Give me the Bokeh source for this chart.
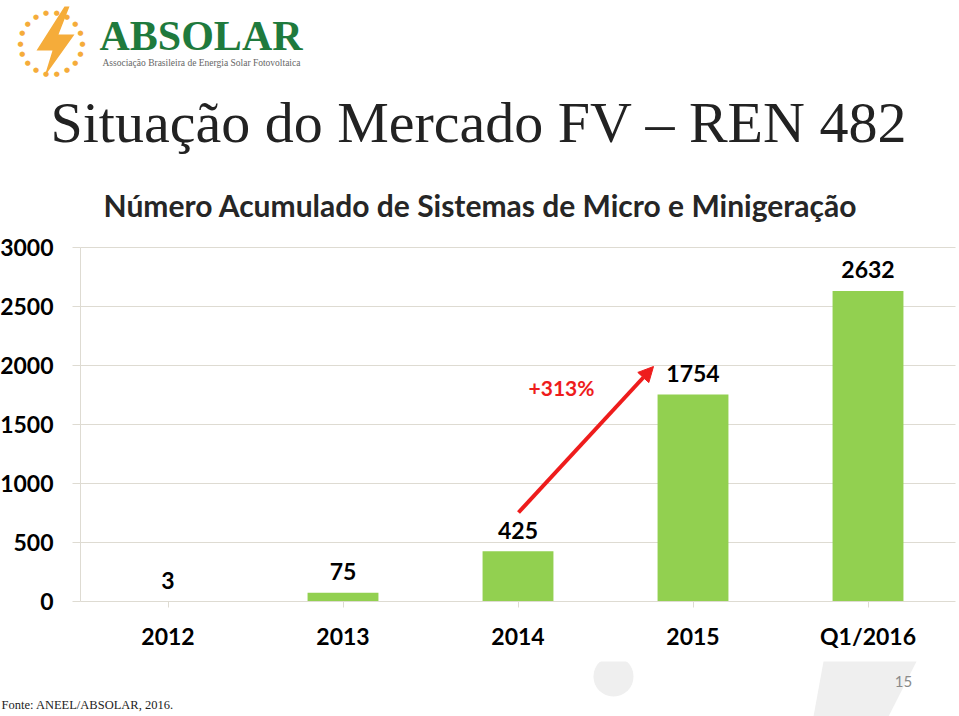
import math
from bokeh.plotting import figure
from bokeh.models import (Range1d, FixedTicker, Label, Arrow, NormalHead,
                          PolyAnnotation, ColumnDataSource)
from bokeh.core.properties import value
from bokeh.embed import file_html
from bokeh.resources import INLINE

# ---- data ----
categories = ["2012", "2013", "2014", "2015", "Q1/2016"]
systems = [3, 75, 425, 1754, 2632]
growth_label = "+313%"
y_ticks = [0, 500, 1000, 1500, 2000, 2500, 3000]

title_text = "Situação do Mercado FV – REN 482"
subtitle_text = "Número Acumulado de Sistemas de Micro e Minigeração"
logo_text = "ABSOLAR"
logo_sub = "Associação Brasileira de Energia Solar Fotovoltaica"
source_text = "Fonte: ANEEL/ABSOLAR, 2016."
page_number = "15"

# ---- geometry (canvas pixels) ----
W, H = 959, 716
AX_LEFT, AX_RIGHT = 80, 955      # pixel x of category range 0..N
AX_TOP, AX_BOTTOM = 247, 601     # pixel y of 3000 and 0
Y_MAX = 3000
N = len(categories)
PX_X = (AX_RIGHT - AX_LEFT) / N
PX_Y = (AX_BOTTOM - AX_TOP) / Y_MAX


def dx(px):
    return (px - AX_LEFT) / PX_X


def dy(py):
    return (AX_BOTTOM - py) / PX_Y


GREEN = "#92d050"
GRID = "#dedbd2"
RED = "#ee1c1c"

p = figure(width=W, height=H, output_backend="svg", toolbar_location=None,
           x_range=Range1d(dx(0), dx(W)), y_range=Range1d(dy(H), dy(0)),
           min_border=0, min_border_left=0, min_border_right=0,
           min_border_top=0, min_border_bottom=0, outline_line_color=None,
           background_fill_color="white", border_fill_color="white")

xs = [i + 0.5 for i in range(N)]

# grid lines
p.xgrid.grid_line_color = None
p.ygrid.grid_line_color = None
p.segment(x0=[0] * (len(y_ticks) - 1), x1=[N] * (len(y_ticks) - 1),
          y0=y_ticks[1:], y1=y_ticks[1:], line_color=GRID, line_width=1)

src = ColumnDataSource(dict(x=xs, top=systems, lab=[str(v) for v in systems]))
p.vbar(x="x", top="top", width=0.405, bottom=0, source=src,
       fill_color=GREEN, line_color=None)

p.text(x="x", y="top", text="lab", source=src, y_offset=-21,
       text_align="center", text_baseline="middle",
       text_font=value("Lato"), text_font_style="bold",
       text_font_size="23px", text_color="black")

# axes placed inside the canvas
p.xaxis.fixed_location = 0
p.yaxis.fixed_location = 0
p.xaxis.bounds = (0, N)
p.yaxis.bounds = (0, Y_MAX)

p.xaxis.ticker = FixedTicker(ticks=xs)
p.xaxis.major_label_overrides = {x: c for x, c in zip(xs, categories)}
p.xaxis.major_label_text_font = "Lato"
p.xaxis.major_label_text_font_style = "bold"
p.xaxis.major_label_text_font_size = "23px"
p.xaxis.major_label_text_color = "black"
p.xaxis.axis_line_color = GRID
p.xaxis.major_tick_line_color = GRID
p.xaxis.major_tick_in = 0
p.xaxis.major_tick_out = 6
p.xaxis.minor_tick_line_color = None
p.xaxis.major_label_standoff = 14

p.yaxis.ticker = FixedTicker(ticks=y_ticks)
p.yaxis.major_label_text_font = "Lato"
p.yaxis.major_label_text_font_style = "bold"
p.yaxis.major_label_text_font_size = "23px"
p.yaxis.major_label_text_color = "black"
p.yaxis.axis_line_color = GRID
p.yaxis.major_tick_line_color = GRID
p.yaxis.major_tick_in = 0
p.yaxis.major_tick_out = 8
p.yaxis.minor_tick_line_color = None
p.yaxis.major_label_standoff = 19

# growth arrow
p.add_layout(Arrow(x_start=dx(518), y_start=dy(512), x_end=dx(653), y_end=dy(366),
                   line_color=RED, line_width=4,
                   end=NormalHead(size=15, fill_color=RED, line_color=RED)))
p.add_layout(Label(x=dx(561), y=dy(387), text=growth_label,
                   text_align="center", text_baseline="middle",
                   text_font="Lato", text_font_style="bold",
                   text_font_size="21px", text_color=RED))

# titles
p.add_layout(Label(x=dx(50), y=dy(122), text=title_text,
                   text_align="left", text_baseline="middle",
                   text_font="Liberation Serif", text_font_size="58px",
                   text_color="#222222"))
p.add_layout(Label(x=dx(480), y=dy(204), text=subtitle_text,
                   text_align="center", text_baseline="middle",
                   text_font="Lato", text_font_style="bold",
                   text_font_size="30px", text_color="#262626"))

# logo
LOGO_GREEN = "#1f7a3d"
ORANGE = "#f5ac3a"
cx, cy, r = 51, 43, 31
for k in range(18):
    a = 2 * math.pi * k / 18
    p.add_layout(Label(x=dx(cx + r * math.cos(a)), y=dy(cy + r * math.sin(a)),
                       text="●", text_align="center", text_baseline="middle",
                       text_font="DejaVu Sans", text_font_size="7px",
                       text_color=ORANGE))
bolt = [(64, 6), (36, 50), (52, 50), (44, 76), (74, 34), (58, 34), (69, 6)]
p.add_layout(PolyAnnotation(xs=[dx(a) for a, b in bolt], ys=[dy(b) for a, b in bolt],
                            fill_color=ORANGE, fill_alpha=1, line_color=None))
p.add_layout(Label(x=dx(99), y=dy(35), text=logo_text,
                   text_align="left", text_baseline="middle",
                   text_font="Liberation Serif", text_font_style="bold",
                   text_font_size="42px", text_color=LOGO_GREEN))
p.add_layout(Label(x=dx(102), y=dy(62), text=logo_sub,
                   text_align="left", text_baseline="middle",
                   text_font="Liberation Serif", text_font_size="9.5px",
                   text_color="#666666"))

# decorative footer shapes
fc = [(613 + 20 * math.cos(2 * math.pi * k / 48), 676 + 20 * math.sin(2 * math.pi * k / 48))
      for k in range(48)]
fc = [(a, max(b, 661)) for a, b in fc]
p.add_layout(PolyAnnotation(xs=[dx(a) for a, b in fc], ys=[dy(b) for a, b in fc],
                            fill_color="#efefef", fill_alpha=1, line_color=None))
para = [(823, 661), (916, 661), (888, 716), (813, 716)]
p.add_layout(PolyAnnotation(xs=[dx(a) for a, b in para], ys=[dy(b) for a, b in para],
                            fill_color="#efefef", fill_alpha=1, line_color=None))
p.add_layout(Label(x=dx(903), y=dy(681), text=page_number,
                   text_align="center", text_baseline="middle",
                   text_font="Lato", text_font_size="15px", text_color="#8a8a8a"))
p.add_layout(Label(x=dx(1), y=dy(704), text=source_text,
                   text_align="left", text_baseline="middle",
                   text_font="Liberation Serif", text_font_size="12.5px",
                   text_color="#222222"))

open("out.html", "w").write(file_html(p, INLINE))
